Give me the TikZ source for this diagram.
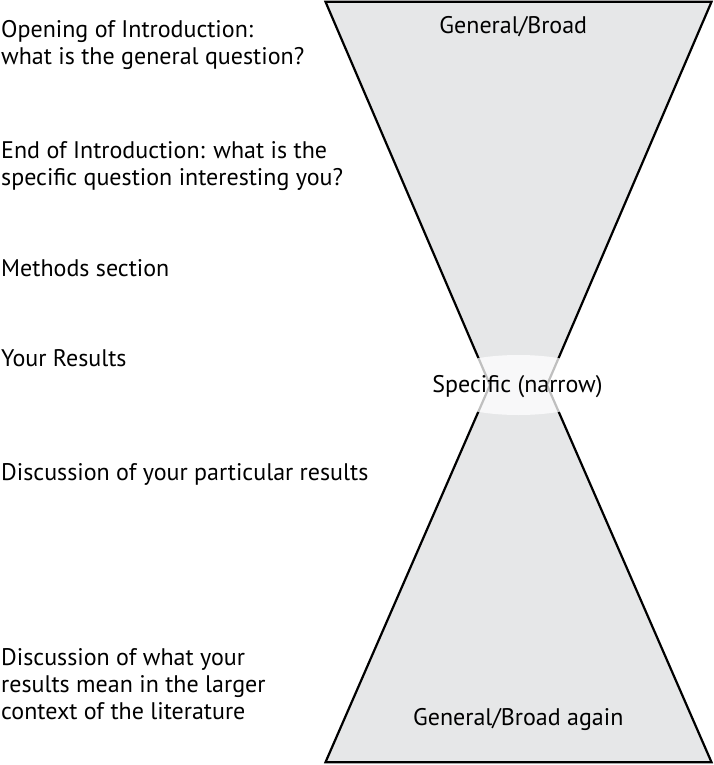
\documentclass[tikz,border=0pt]{standalone}
\usepackage{fontspec}
\setmainfont{PT Sans}
\definecolor{glassgray}{HTML}{E6E7E8}

\begin{document}
\begin{tikzpicture}[x=1pt,y=-1pt,
        every node/.style={inner sep=0pt, font=\fontsize{24}{27}\selectfont},
        side/.style={anchor=base west, align=left},
        mid/.style={anchor=base}]
        \useasboundingbox (0,0) rectangle (714,765);
        % hourglass
        \draw[line width=2.2pt, fill=glassgray] (325.5,1.8) -- (711.5,1.8) -- (547,385) -- (711.5,762.2) -- (325.5,762.2) -- (490,385) -- cycle;
        \fill[white, opacity=0.75] (518.5,385) ellipse [x radius=90pt, y radius=30pt];
        \node[mid] (broad) at (513.3,33.3) {General/Broad};
        \node[mid] (narrow) at (517.5,392.7) {Specific (narrow)};
        \node[mid] (again) at (518.3,725) {General/Broad again};
        % left column (base = last line)
        \node[side] (opening) at (1,65) {Opening of Introduction:\\what is the general question?};
        \node[side] (endintro) at (1,185) {End of Introduction: what is the\\specific question interesting you?};
        \node[side] (methods) at (1,276) {Methods section};
        \node[side] (results) at (1,366) {Your Results};
        \node[side] (particular) at (1,480) {Discussion of your particular results};
        \node[side] (larger) at (1,719.5) {Discussion of what your\\results mean in the larger\\context of the literature};
    \end{tikzpicture}
\end{document}
